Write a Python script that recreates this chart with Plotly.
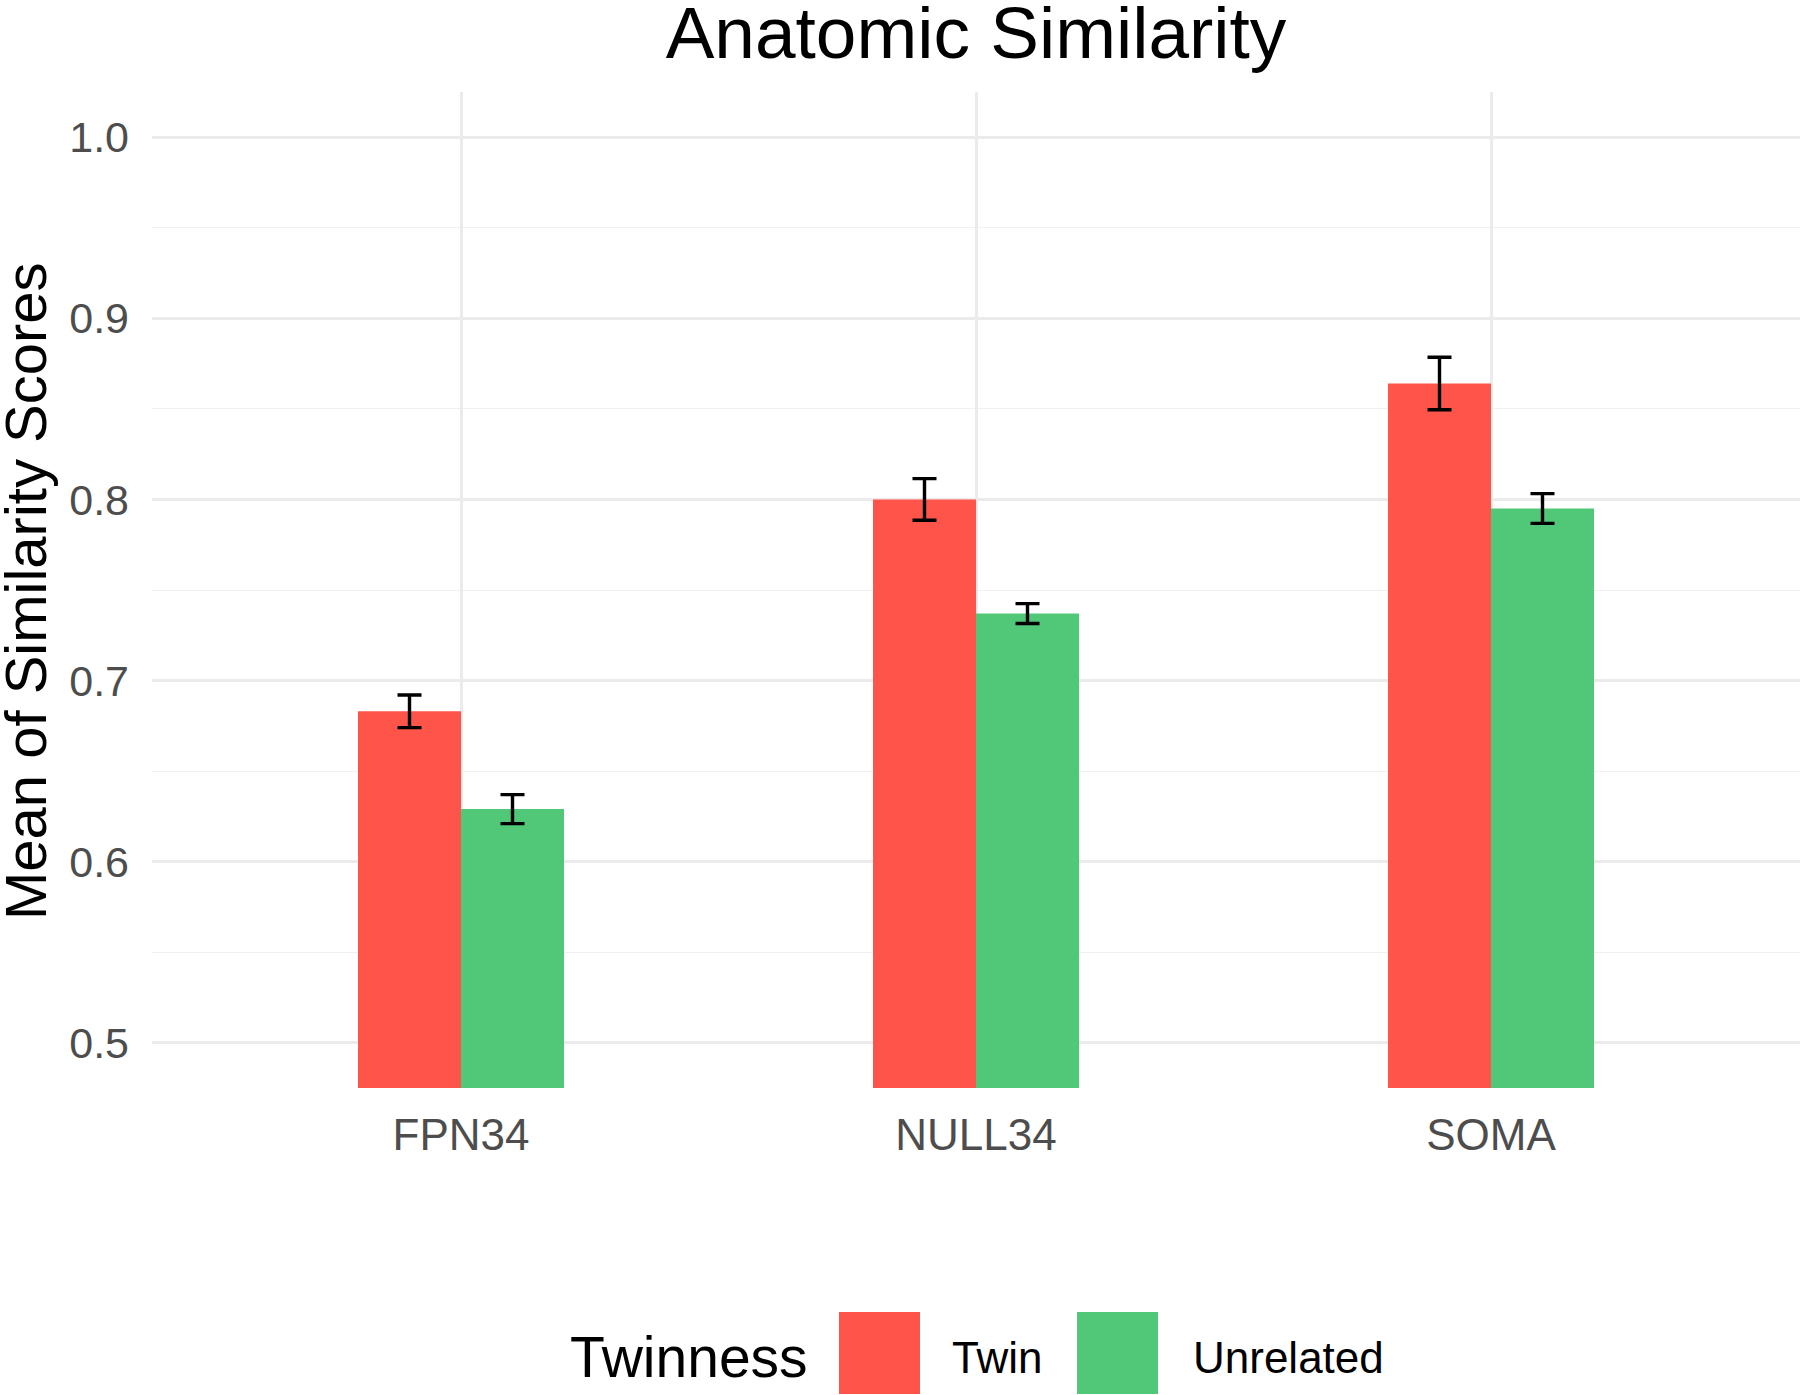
import plotly.graph_objects as go

# ---- data ----
categories = ["FPN34", "NULL34", "SOMA"]
groups = ["Twin", "Unrelated"]
twin_means = [0.683, 0.800, 0.864]
twin_err = [0.009, 0.0115, 0.0145]
unrelated_means = [0.629, 0.737, 0.795]
unrelated_err = [0.008, 0.0055, 0.0082]
y_ticks = [0.5, 0.6, 0.7, 0.8, 0.9, 1.0]
y_tick_labels = ["0.5", "0.6", "0.7", "0.8", "0.9", "1.0"]
colors = ["#FF5449", "#50C878"]

W, H = 1800, 1395
# panel in page pixels: x 152..1800, y 92..1088
L, R, T, B = 152, 0, 92, H - 1088
PW, PH = W - L - R, H - T - B
FONT = "Liberation Sans, Arial, sans-serif"

def px_x(px):
    return (px - L) / PW

def px_y(py):
    return (H - B - py) / PH

fig = go.Figure()
for name, means, errs, col in [
    (groups[0], twin_means, twin_err, colors[0]),
    (groups[1], unrelated_means, unrelated_err, colors[1]),
]:
    fig.add_trace(go.Bar(
        x=categories, y=means, name=name,
        marker=dict(color=col, line=dict(width=0)),
        error_y=dict(type="data", array=errs, color="black", thickness=3.4, width=12),
    ))

grid = "#EBEBEB"
fig.update_layout(
    width=W, height=H,
    margin=dict(l=L, r=R, t=T, b=B, autoexpand=False),
    paper_bgcolor="white", plot_bgcolor="white",
    barmode="group", bargap=0.6, bargroupgap=0,
    showlegend=False,
    font=dict(family=FONT, color="black"),
    title=dict(text="Anatomic Similarity", x=0.5, xref="paper", xanchor="center",
               y=1 - 32 / H, yref="container", yanchor="middle",
               font=dict(size=73, color="black", family=FONT)),
    xaxis=dict(
        range=[-0.6, 2.6], showgrid=True, gridcolor=grid, gridwidth=2.5,
        zeroline=False, showline=False, ticks="",
        tickfont=dict(size=44, color="#4D4D4D", family=FONT),
        ticklabelstandoff=17,
    ),
    yaxis=dict(
        range=[0.475, 1.025], tickvals=y_ticks, ticktext=y_tick_labels,
        showgrid=True, gridcolor=grid, gridwidth=2.5,
        minor=dict(dtick=0.05, tick0=0.45, showgrid=True, gridcolor="#F0F0F0", gridwidth=1.4),
        zeroline=False, showline=False, ticks="",
        tickfont=dict(size=43, color="#4D4D4D", family=FONT),
        ticklabelstandoff=22,
    ),
)

# y-axis title
fig.add_annotation(text="Mean of Similarity Scores", textangle=-90,
                   xref="paper", yref="paper", x=px_x(25), y=px_y(591),
                   xanchor="center", yanchor="middle", showarrow=False,
                   font=dict(size=58, color="black", family=FONT))

# manual legend (large keys like ggplot)
leg_mid = 1357
fig.add_annotation(text="Twinness", xref="paper", yref="paper",
                   x=px_x(568), y=px_y(leg_mid), xanchor="left", yanchor="middle",
                   showarrow=False, font=dict(size=57, color="black", family=FONT))
key_x = [839, 1077]
label_x = [950, 1191]
for i, g in enumerate(groups):
    fig.add_shape(type="rect", xref="paper", yref="paper",
                  x0=px_x(key_x[i]), x1=px_x(key_x[i] + 81),
                  y0=px_y(1394), y1=px_y(1312),
                  fillcolor=colors[i], line=dict(width=0))
    fig.add_annotation(text=g, xref="paper", yref="paper",
                       x=px_x(label_x[i]), y=px_y(leg_mid), xanchor="left", yanchor="middle",
                       showarrow=False, font=dict(size=44, color="black", family=FONT))

fig.write_html("out.html", config={"displayModeBar": False},
               post_script="document.body.style.margin='0';")
